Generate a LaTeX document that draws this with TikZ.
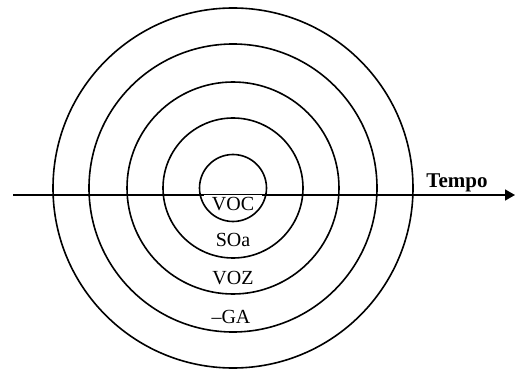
\documentclass[tikz,border=0pt]{standalone}
\usepackage{fontspec}
\setmainfont{Liberation Serif}
\usetikzlibrary{arrows.meta}

\begin{document}
\begin{tikzpicture}[x=1pt,y=-1pt,line width=1.6pt,
  camada/.style={font=\fontsize{20}{20}\selectfont,inner sep=0pt}]
  \useasboundingbox (0,0) rectangle (515,369);
  % eixo do tempo
  \coordinate (ini) at (13,195);
  \coordinate (fim) at (515,195);
  \draw[-{Triangle[length=10pt,width=11pt]}] (ini) -- (fim);
  \node[camada,fill=white,inner xsep=8pt,inner ysep=2pt] (voc) at (233,204) {VOC};
  % circulos concentricos
  \foreach \r in {33.5,70,106,144,180}
    \draw (233,188) circle[radius=\r];
  \node[camada] (soa) at (233,240) {SOa};
  \node[camada] (voz) at (233,278) {VOZ};
  \node[camada] (ga) at (231,317) {--GA};
  \node[font=\bfseries\fontsize{21}{21}\selectfont,inner sep=0pt] (tempo) at (457,183) {Tempo};
\end{tikzpicture}
\end{document}
